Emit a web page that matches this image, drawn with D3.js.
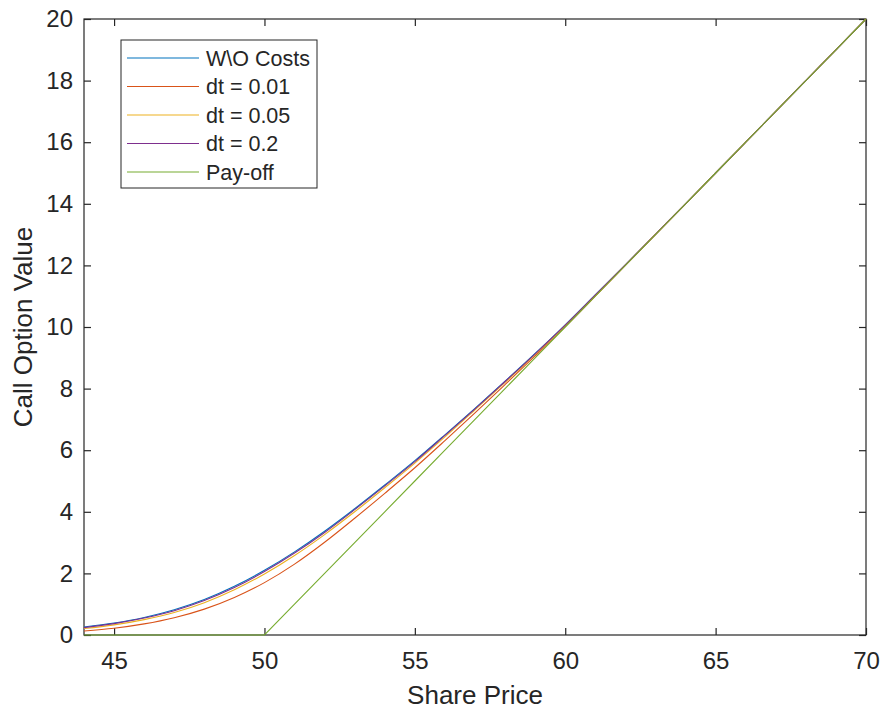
<!DOCTYPE html>
<html>
<head>
<meta charset="utf-8">
<script src="https://cdn.jsdelivr.net/npm/d3@7"></script>
<style>
  body { margin: 0; background: #fff; }
  text { font-family: "Liberation Sans", Arial, Helvetica, sans-serif; fill: #262626; }
</style>
</head>
<body>
<div id="chart"></div>
<script>
// share price grid and values
const sharePrice = [44, 45, 46, 47, 48, 49, 50, 51, 52, 53, 54, 55, 56, 57, 58, 59, 60, 61, 62, 63, 64, 65, 66, 67, 68, 69, 70];
const noCosts = [0.26, 0.39, 0.57, 0.82, 1.15, 1.58, 2.10, 2.70, 3.37, 4.10, 4.87, 5.66, 6.50, 7.36, 8.24, 9.14, 10.07, 11.04, 12.02, 13.01, 14.00, 15.00, 16.00, 17.00, 18.00, 19.00, 20.00];
const dt001 = [0.13, 0.22, 0.36, 0.56, 0.84, 1.22, 1.70, 2.30, 3.01, 3.79, 4.60, 5.43, 6.31, 7.21, 8.13, 9.06, 10.01, 11.00, 12.00, 13.00, 14.00, 15.00, 16.00, 17.00, 18.00, 19.00, 20.00];
const dt005 = [0.21, 0.33, 0.50, 0.73, 1.05, 1.47, 1.98, 2.58, 3.26, 4.00, 4.78, 5.58, 6.43, 7.31, 8.20, 9.11, 10.05, 11.03, 12.02, 13.01, 14.00, 15.00, 16.00, 17.00, 18.00, 19.00, 20.00];
const dt02 = [0.24, 0.37, 0.55, 0.79, 1.12, 1.54, 2.06, 2.66, 3.33, 4.07, 4.84, 5.63, 6.48, 7.34, 8.23, 9.13, 10.06, 11.04, 12.02, 13.01, 14.00, 15.00, 16.00, 17.00, 18.00, 19.00, 20.00];
const payoff = [0, 0, 0, 0, 0, 0, 0, 1, 2, 3, 4, 5, 6, 7, 8, 9, 10, 11, 12, 13, 14, 15, 16, 17, 18, 19, 20];

const seriesNames = ["W\\O Costs", "dt = 0.01", "dt = 0.05", "dt = 0.2", "Pay-off"];
const seriesValues = [noCosts, dt001, dt005, dt02, payoff];
const seriesColors = ["#0072BD", "#D95319", "#EDB120", "#7E2F8E", "#77AC30"];

const xTicks = [45, 50, 55, 60, 65, 70];
const yTicks = [0, 2, 4, 6, 8, 10, 12, 14, 16, 18, 20];

const W = 881, H = 709;
const margin = { top: 19, right: 15, bottom: 74, left: 84 };
const width = W - margin.left - margin.right;
const height = H - margin.top - margin.bottom;

const svg = d3.select("#chart").append("svg")
  .attr("width", W)
  .attr("height", H);

const g = svg.append("g")
  .attr("transform", "translate(" + margin.left + "," + margin.top + ")");

const x = d3.scaleLinear().domain([44, 70]).range([0, width]);
const y = d3.scaleLinear().domain([0, 20]).range([height, 0]);

// axes box with inward ticks on all sides (matlab style)
const tickLen = 7;
const axisColor = "#262626";

g.append("rect")
  .attr("width", width).attr("height", height)
  .attr("fill", "none").attr("stroke", axisColor).attr("stroke-width", 1.2);

const bottomAxis = g.append("g").attr("transform", "translate(0," + height + ")")
  .call(d3.axisBottom(x).tickValues(xTicks).tickSize(-tickLen).tickPadding(17));
const topAxis = g.append("g")
  .call(d3.axisTop(x).tickValues(xTicks).tickSize(-tickLen).tickFormat(""));
const leftAxis = g.append("g")
  .call(d3.axisLeft(y).tickValues(yTicks).tickSize(-tickLen).tickPadding(11));
const rightAxis = g.append("g").attr("transform", "translate(" + width + ",0)")
  .call(d3.axisRight(y).tickValues(yTicks).tickSize(-tickLen).tickFormat(""));

[bottomAxis, topAxis, leftAxis, rightAxis].forEach(a => {
  a.select(".domain").remove();
  a.selectAll(".tick line").attr("stroke", axisColor).attr("stroke-width", 1.2);
  a.selectAll(".tick text")
    .style("font-family", "'Liberation Sans', Arial, sans-serif")
    .style("font-size", "24px")
    .attr("fill", axisColor);
});

// lines
const clip = g.append("clipPath").attr("id", "plotclip")
  .append("rect").attr("x", -2).attr("y", -2).attr("width", width + 4).attr("height", height + 4);

const line = d3.line()
  .x((d, i) => x(sharePrice[i]))
  .y(d => y(d))
  .curve(d3.curveMonotoneX);

const payoffLine = d3.line()
  .x((d, i) => x(sharePrice[i]))
  .y(d => y(d));

g.append("g").attr("clip-path", "url(#plotclip)")
  .selectAll("path")
  .data(seriesValues)
  .enter().append("path")
  .attr("d", (d, i) => i === 4 ? payoffLine(d) : line(d))
  .attr("fill", "none")
  .attr("stroke", (d, i) => seriesColors[i])
  .attr("stroke-width", 1.1);

// axis labels
svg.append("text")
  .attr("x", margin.left + width / 2)
  .attr("y", 704)
  .attr("text-anchor", "middle")
  .style("font-size", "26px")
  .text("Share Price");

svg.append("text")
  .attr("transform", "translate(32," + (margin.top + height / 2) + ") rotate(-90)")
  .attr("text-anchor", "middle")
  .style("font-size", "26px")
  .text("Call Option Value");

// legend
const legend = svg.append("g").attr("transform", "translate(121,40)");
legend.append("rect")
  .attr("width", 196).attr("height", 148)
  .attr("fill", "#fff").attr("stroke", axisColor).attr("stroke-width", 1);

const rowY = d3.scalePoint().domain(seriesNames).range([18, 132]);

const rows = legend.selectAll(".row")
  .data(seriesNames)
  .enter().append("g")
  .attr("class", "row")
  .attr("transform", d => "translate(0," + rowY(d) + ")");

rows.append("line")
  .attr("x1", 6).attr("x2", 78)
  .attr("stroke", (d, i) => seriesColors[i])
  .attr("stroke-width", 1.1);

rows.append("text")
  .attr("x", 85)
  .attr("dy", "0.35em")
  .style("font-size", "21.5px")
  .text(d => d);
</script>
</body>
</html>
